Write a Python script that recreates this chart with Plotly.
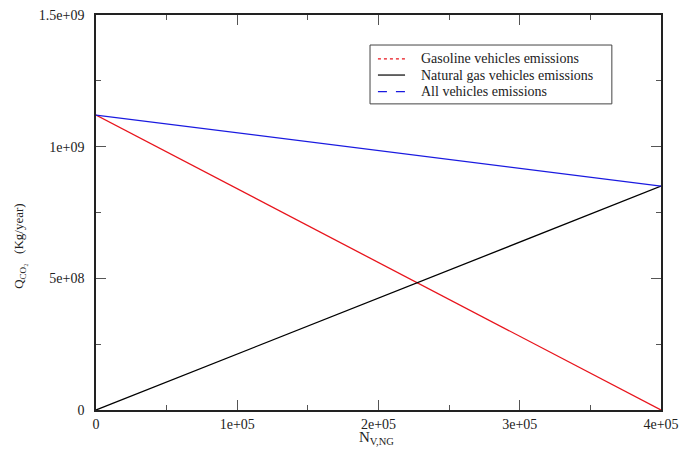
import plotly.graph_objects as go

# Data
n_ng = [0, 100000, 200000, 300000, 400000]
gasoline = [1.12e9, 0.84e9, 0.56e9, 0.28e9, 0.0]
natural_gas = [0.0, 2.125e8, 4.25e8, 6.375e8, 8.5e8]
all_vehicles = [1.12e9, 1.0525e9, 0.985e9, 0.9175e9, 0.85e9]

series_names = ["Gasoline vehicles emissions",
                "Natural gas vehicles emissions",
                "All vehicles emissions"]
series_colors = ["#e8141c", "#000000", "#1a1ae0"]
legend_dashes = ["dot", "solid", "dash"]

x_tickvals = [0, 100000, 200000, 300000, 400000]
x_ticktext = ["0", "1e+05", "2e+05", "3e+05", "4e+05"]
y_tickvals = [0, 5e8, 1e9, 1.5e9]
y_ticktext = ["0", "5e+08", "1e+09", "1.5e+09"]

FONT = "Liberation Serif, Times New Roman, serif"

fig = go.Figure()
for name, ys, col in zip(series_names, [gasoline, natural_gas, all_vehicles], series_colors):
    fig.add_trace(go.Scatter(x=n_ng, y=ys, mode="lines", name=name, showlegend=False,
                             line=dict(color=col, width=1.3)))

axis_common = dict(showline=True, linecolor="#222", linewidth=1.5, mirror="ticks",
                   ticks="inside", ticklen=10, tickcolor="#555", tickwidth=1.2,
                   showgrid=False, zeroline=False, automargin=False,
                   tickfont=dict(family=FONT, size=14, color="#222"))

fig.update_xaxes(range=[0, 400000], tickvals=x_tickvals, ticktext=x_ticktext,
                 minor=dict(ticks="inside", ticklen=5, tickcolor="#555", dtick=50000,
                            tick0=0, showgrid=False),
                 **axis_common)
fig.update_yaxes(range=[0, 1.5e9], tickvals=y_tickvals, ticktext=y_ticktext,
                 ticklabelstandoff=7,
                 minor=dict(ticks="inside", ticklen=5, tickcolor="#555", dtick=2.5e8,
                            tick0=0, showgrid=False),
                 **axis_common)

# axis titles
fig.add_annotation(text="Q<sub>CO₂</sub>   (Kg/year)", textangle=-90,
                   xref="paper", yref="paper", x=-0.1345, y=0.413,
                   xanchor="center", yanchor="middle", showarrow=False,
                   font=dict(family=FONT, size=13, color="#222"))
fig.add_annotation(text="N<sub>V,NG</sub>", xref="paper", yref="paper",
                   x=0.497, y=-0.07, xanchor="center", yanchor="middle", showarrow=False,
                   font=dict(family=FONT, size=15, color="#222"))

# legend box drawn like the reference
lx0, lx1, ly0, ly1 = 0.485, 0.913, 0.775, 0.924
fig.add_shape(type="rect", xref="paper", yref="paper", x0=lx0, x1=lx1, y0=ly0, y1=ly1,
              line=dict(color="#444", width=1), fillcolor="white", layer="above")
row_y = [0.889, 0.848, 0.806]
for name, col, dash, ry in zip(series_names, series_colors, legend_dashes, row_y):
    fig.add_shape(type="line", xref="paper", yref="paper", x0=0.499, x1=0.547, y0=ry, y1=ry,
                  line=dict(color=col, width=1.2, dash=dash), layer="above")
    fig.add_annotation(text=name, xref="paper", yref="paper", x=0.572, y=ry,
                       xanchor="left", yanchor="middle", showarrow=False,
                       font=dict(family=FONT, size=14, color="#222"))

fig.update_layout(
    width=681, height=452,
    margin=dict(l=96, r=20, t=15, b=42),
    paper_bgcolor="white", plot_bgcolor="white",
    showlegend=False,
)

# remove the page's default 8px body margin so the figure fills the window
fig.write_html("out.html", config={"displayModeBar": False},
               post_script="document.body.style.margin='0';document.body.style.overflow='hidden';")
